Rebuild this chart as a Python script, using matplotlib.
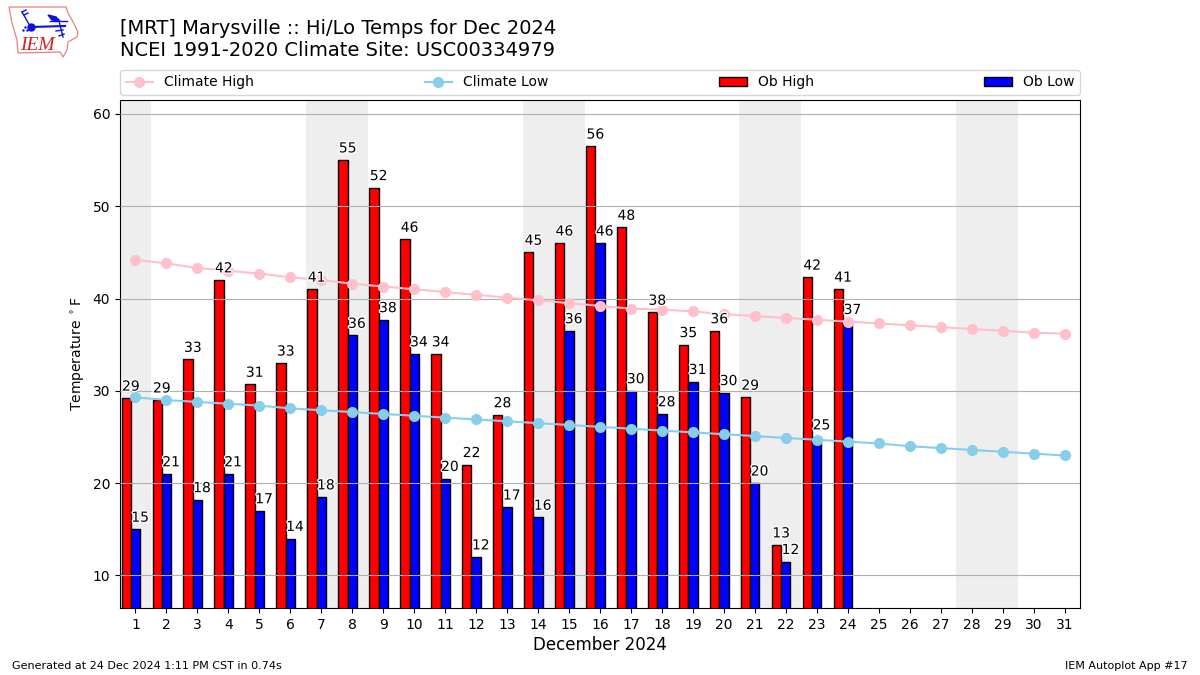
import matplotlib
matplotlib.use("Agg")
import matplotlib.pyplot as plt
import matplotlib.patheffects as pe
from matplotlib.patches import Polygon

# Observed values, missing after the 24th
days = list(range(1, 32))
ob_days = list(range(1, 25))
ob_high = [29.2, 29, 33.4, 42, 30.7, 33, 41, 55, 52, 46.4, 34, 22, 27.4, 45, 46, 56.5,
           47.7, 38.5, 35, 36.5, 29.3, 13.3, 42.3, 41]
ob_low = [15, 21, 18.2, 21, 17, 14, 18.5, 36, 37.7, 34, 20.5, 12, 17.4, 16.3, 36.5, 46,
          30, 27.5, 31, 29.8, 20, 11.5, 25, 37.5]
high_labels = [29, 29, 33, 42, 31, 33, 41, 55, 52, 46, 34, 22, 28, 45, 46, 56,
               48, 38, 35, 36, 29, 13, 42, 41]
low_labels = [15, 21, 18, 21, 17, 14, 18, 36, 38, 34, 20, 12, 17, 16, 36, 46,
              30, 28, 31, 30, 20, 12, 25, 37]

# Climatology
clim_high = [44.2, 43.8, 43.3, 43.0, 42.7, 42.3, 42.0, 41.6, 41.3, 41.0, 40.7, 40.4,
             40.1, 39.8, 39.5, 39.2, 38.9, 38.8, 38.6, 38.3, 38.1, 37.9, 37.7, 37.5,
             37.3, 37.1, 36.9, 36.7, 36.5, 36.3, 36.2]
clim_low = [29.3, 29.0, 28.8, 28.6, 28.4, 28.1, 27.9, 27.7, 27.5, 27.3, 27.1, 26.9,
            26.7, 26.5, 26.3, 26.1, 25.9, 25.7, 25.5, 25.3, 25.1, 24.9, 24.7, 24.5,
            24.3, 24.0, 23.8, 23.6, 23.4, 23.2, 23.0]

# Weekend shading: (first day, last day)
weekends = [(1, 1), (7, 8), (14, 15), (21, 22), (28, 29)]

fig = plt.figure(figsize=(12, 6.75), dpi=100)
ax = fig.add_axes([0.1, 1 - 608 / 675, 0.8, 508 / 675])

for first, last in weekends:
    ax.axvspan(first - 0.5, last + 0.5, color="#eeeeee", lw=0, zorder=0)

ax.bar([d - 0.3 for d in ob_days], ob_high, width=0.3, color="red", edgecolor="black",
       linewidth=1, label="Ob High", zorder=2)
ax.bar(ob_days, ob_low, width=0.3, color="blue", edgecolor="black",
       linewidth=1, label="Ob Low", zorder=2)
ax.plot(days, clim_high, color="pink", marker="o", markersize=7, linewidth=1.5,
        label="Climate High", zorder=3)
ax.plot(days, clim_low, color="skyblue", marker="o", markersize=7, linewidth=1.5,
        label="Climate Low", zorder=3)

halo = [pe.withStroke(linewidth=2, foreground="white")]
for d, v, lab in zip(ob_days, ob_high, high_labels):
    ax.text(d - 0.15, v + 0.5, str(lab), ha="center", va="bottom", fontsize=10,
            path_effects=halo, zorder=4)
for d, v, lab in zip(ob_days, ob_low, low_labels):
    ax.text(d + 0.15, v + 0.5, str(lab), ha="center", va="bottom", fontsize=10,
            path_effects=halo, zorder=4)

ax.set_xlim(0.5, 31.5)
ax.set_ylim(6.48, 61.5)
ax.set_xticks(days)
ax.set_yticks([10, 20, 30, 40, 50, 60])
ax.tick_params(labelsize=10)
ax.yaxis.grid(True, color="#b0b0b0", linewidth=0.8)
ax.set_axisbelow(False)
ax.xaxis.grid(False)
ax.set_xlabel("December 2024", fontsize=12, labelpad=3.4)
ax.set_ylabel(r"Temperature $^\circ$F", fontsize=10)

# legend order: climate lines first, then bars
handles, labels = ax.get_legend_handles_labels()
order = [labels.index(n) for n in ["Climate High", "Climate Low", "Ob High", "Ob Low"]]
ax.legend([handles[i] for i in order], [labels[i] for i in order], ncol=4, mode="expand",
          loc="lower left", bbox_to_anchor=(0, 1.01, 1, 0.05), borderaxespad=0, fontsize=10)

fig.text(120 / 1200, 1 - 40 / 675, "[MRT] Marysville :: Hi/Lo Temps for Dec 2024\n"
         "NCEI 1991-2020 Climate Site: USC00334979", fontsize=14, va="center", ha="left")
fig.text(12 / 1200, 1 - 666 / 675, "Generated at 24 Dec 2024 1:11 PM CST in 0.74s",
         fontsize=8, va="center")
fig.text(1188 / 1200, 1 - 666 / 675, "IEM Autoplot App #17", fontsize=8, va="center", ha="right")

# IEM logo, drawn in figure pixels
logo = fig.add_axes([0, 1 - 65 / 675, 90 / 1200, 65 / 675])
logo.set_xlim(0, 90)
logo.set_ylim(65, 0)
logo.axis("off")
outline = [(9, 7), (66, 7), (68, 13), (72, 20), (78, 32), (77, 37), (68, 42), (67, 50),
           (63, 57), (60, 52), (18, 53), (17, 40), (12, 23)]
logo.add_patch(Polygon(outline, closed=True, fill=False, edgecolor="#e88080", linewidth=0.9))
blue = "#1010dd"
logo.plot([31, 65], [27, 26], color=blue, linewidth=1.5)
logo.plot([31], [27], "o", color=blue, markersize=5)
logo.plot([22, 30], [12, 26], color=blue, linewidth=1)
logo.plot([22, 26], [12, 10], color=blue, linewidth=1)
logo.plot([24, 28], [15, 13], color=blue, linewidth=1)
logo.plot([23, 25, 27], [30, 27, 30], ".", color=blue, markersize=1.5)
logo.add_patch(Polygon([(48, 15), (56, 17), (60, 21), (52, 20)], closed=True, color=blue))
logo.plot([50, 67], [21, 21], color=blue, linewidth=1)
logo.plot([59, 63], [21, 37], color=blue, linewidth=1)
logo.plot([56, 63], [31, 30], color=blue, linewidth=1)
logo.plot([59, 64], [36, 34], color=blue, linewidth=1)
logo.text(37, 45, "IEM", color="#d62020", family="Liberation Serif", style="italic",
          fontsize=14, ha="center", va="center")

fig.savefig("out.png", dpi=100)
